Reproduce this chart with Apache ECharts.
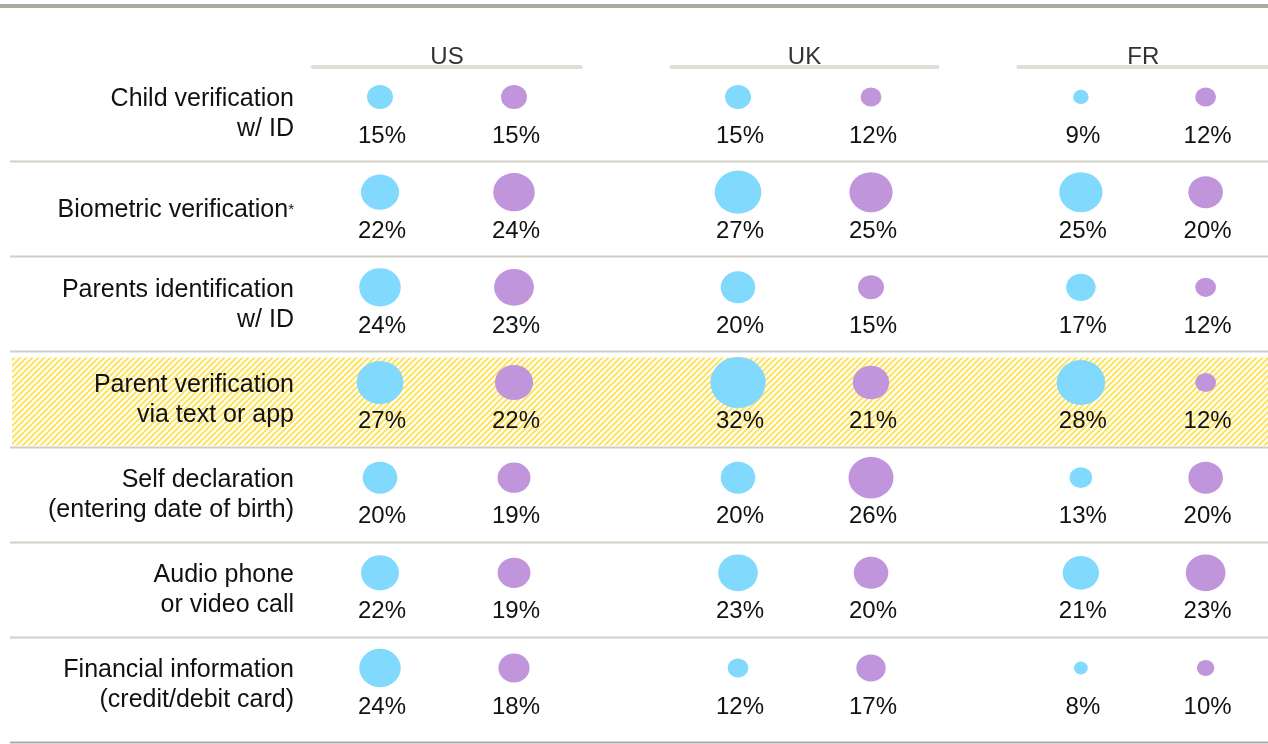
<!DOCTYPE html>
<html>
<head>
<meta charset="utf-8">
<script src="https://cdn.jsdelivr.net/npm/echarts@6/dist/echarts.min.js"></script>
<style>
html,body{margin:0;padding:0;background:#fff;}
#chart{width:1268px;height:744px;}
</style>
</head>
<body>
<div id="chart"></div>
<script>
const rows = [
  "Child verification\nw/ ID",
  "Biometric verification*",
  "Parents identification\nw/ ID",
  "Parent verification\nvia text or app",
  "Self declaration\n(entering date of birth)",
  "Audio phone\nor video call",
  "Financial information\n(credit/debit card)"
];
const countries = ["US", "UK", "FR"];
const groups = ["blue", "purple"];
const usBlue   = [15, 22, 24, 27, 20, 22, 24];
const usPurple = [15, 24, 23, 22, 19, 19, 18];
const ukBlue   = [15, 27, 20, 32, 20, 23, 12];
const ukPurple = [12, 25, 15, 21, 26, 20, 17];
const frBlue   = [9, 25, 17, 28, 13, 21, 8];
const frPurple = [12, 20, 12, 12, 20, 23, 10];
const highlightRow = 3;

const BLUE = '#81d9fe';
const PURPLE = '#c195db';
const FONT = '"Liberation Sans", Arial, sans-serif';

const seriesValues = [
  [usBlue, usPurple],
  [ukBlue, ukPurple],
  [frBlue, frPurple]
];

const gridLefts = [313, 671.5, 1018.5];
const gridWidths = [268, 266, 266];

const grids = gridLefts.map((l, i) => ({left: l, width: gridWidths[i], top: 97, height: 571}));

const xAxes = countries.map((c, i) => ({
  type: 'category', gridIndex: i, data: groups, position: 'top', offset: 30,
  axisLine: {show: true, lineStyle: {color: '#dedfd7', width: 4}},
  axisTick: {show: false}, axisLabel: {show: false}, splitLine: {show: false},
  name: c, nameLocation: 'middle', nameGap: -2,
  nameTextStyle: {fontSize: 24, color: '#333', fontFamily: FONT}
}));

const yAxes = countries.map((c, i) => ({
  type: 'category', gridIndex: i, data: rows, inverse: true, boundaryGap: false,
  axisLine: {show: false}, axisTick: {show: false}, splitLine: {show: false},
  axisLabel: i === 0 ? {
    show: true, margin: 19, fontSize: 25, lineHeight: 30, color: '#111',
    fontFamily: FONT, verticalAlign: 'middle', padding: [35, 0, 0, 0],
    formatter: v => v.endsWith('*') ? v.slice(0, -1) + '{s|*}' : v,
    rich: {s: {fontSize: 15, fontFamily: FONT, color: '#111', verticalAlign: 'middle', lineHeight: 14}}
  } : {show: false}
}));

const series = [];
countries.forEach((c, ci) => {
  groups.forEach((g, gi) => {
    const vals = seriesValues[ci][gi];
    series.push({
      type: 'scatter', name: c + ' ' + g,
      xAxisIndex: ci, yAxisIndex: ci,
      data: rows.map((r, ri) => [g, r, vals[ri]]),
      symbol: 'circle',
      symbolSize: v => [1.73 * v[2], 1.6 * v[2]],
      itemStyle: {color: gi === 0 ? BLUE : PURPLE, opacity: 1},
      emphasis: {disabled: true},
      label: {
        show: true, position: 'inside', offset: [2, 39],
        formatter: p => p.value[2] + '%',
        fontSize: 24, color: '#111', fontFamily: FONT
      },
      z: 3
    });
  });
});

const chart = echarts.init(document.getElementById('chart'), null, {renderer: 'canvas'});
chart.setOption({
  animation: false,
  backgroundColor: '#fff',
  grid: grids, xAxis: xAxes, yAxis: yAxes, series: series
});

// decorations
const pat = document.createElement('canvas');
pat.width = 6; pat.height = 6;
const ctx = pat.getContext('2d');
ctx.fillStyle = '#ffffff'; ctx.fillRect(0, 0, 6, 6);
ctx.strokeStyle = '#fde463'; ctx.lineWidth = 2.2;
ctx.beginPath();
ctx.moveTo(-1, 7); ctx.lineTo(7, -1);
ctx.moveTo(-3, 3); ctx.lineTo(3, -3);
ctx.moveTo(3, 9); ctx.lineTo(9, 3);
ctx.stroke();

const rowY = rows.map(r => chart.convertToPixel({yAxisIndex: 0}, r));
const graphics = [];
graphics.push({type: 'line', shape: {x1: 0, y1: 6, x2: 1268, y2: 6}, style: {stroke: '#abab9f', lineWidth: 4}, z: -1});
graphics.push({
  type: 'rect', shape: {x: 12, y: rowY[highlightRow] - 25, width: 1256, height: 88},
  style: {fill: {image: pat, repeat: 'repeat'}}, z: -2
});
for (let i = 0; i < rows.length - 1; i++) {
  const y = Math.round(rowY[i] + 64) + 0.5;
  graphics.push({type: 'line', shape: {x1: 10, y1: y, x2: 1268, y2: y}, style: {stroke: '#cfcfc4', lineWidth: 2}, z: -1});
}
const yb = Math.round(rowY[rows.length - 1] + 74) + 0.5;
graphics.push({type: 'line', shape: {x1: 10, y1: yb, x2: 1268, y2: yb}, style: {stroke: '#ababab', lineWidth: 2}, z: -1});
chart.setOption({graphic: graphics});
</script>
</body>
</html>
